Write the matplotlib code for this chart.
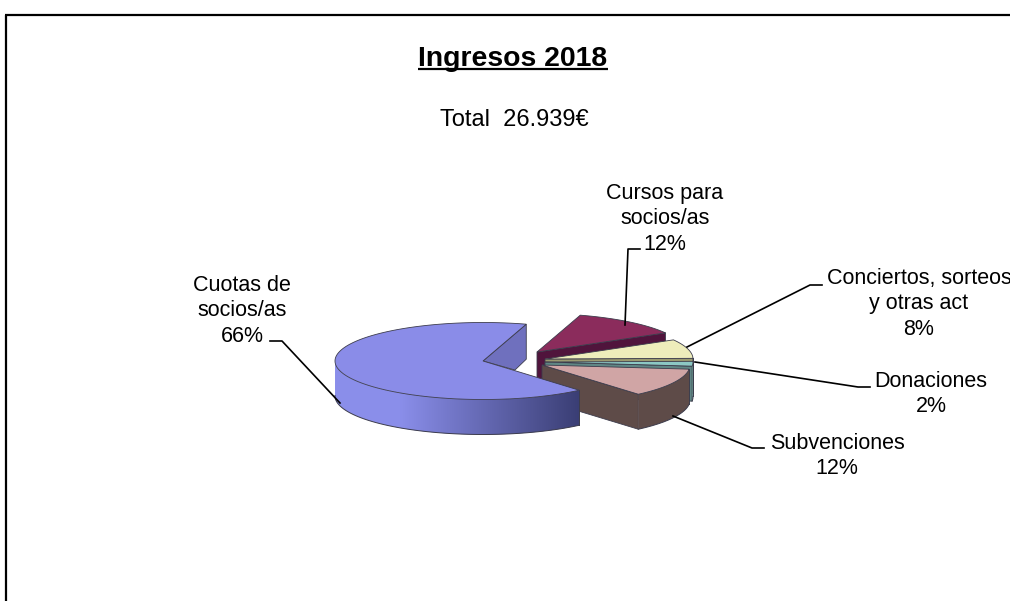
import numpy as np
import matplotlib
matplotlib.use("Agg")
import matplotlib.pyplot as plt
from matplotlib.patches import Polygon

plt.rcParams['font.family'] = ['Liberation Sans', 'DejaVu Sans']

# data, counterclockwise from the top of the big slice
categories = ["Cuotas de\nsocios/as", "Subvenciones", "Donaciones", "Conciertos, sorteos\ny otras act", "Cursos para\nsocios/as"]
shares = [66, 12, 2, 8, 12]
title = "Ingresos 2018"
subtitle = "Total  26.939€"

START = 73.0
A, B, DEPTH = 148.0, 38.5, 35.0

# apex of each exploded slice, in pixels
apex = [(483, 361), (542, 365), (545, 362), (545, 359), (537, 352)]
top_col = ["#8A8CE8", "#D0A5A5", "#8CC8C4", "#EEEDBB", "#8B2C5C"]
wall_col = ["#6F70BE", "#5E4B48", "#5F8684", "#9A9A70", "#50143C"]
edge = "#3C3C4C"

angles = np.cumsum([0] + [s * 3.6 for s in shares]) + START


def arc(cx, cy, a0, a1, n=200):
    t = np.radians(np.linspace(a0, a1, n))
    return cx + A * np.cos(t), cy - B * np.sin(t), np.sin(t)


def draw_slice(ax, i, z):
    cx, cy = apex[i]
    x, y, s = arc(cx, cy, angles[i], angles[i + 1])

    # wall of the cut at the start angle
    if i == 0:
        cut_x = [cx, x[0], x[0], cx + 32]
        cut_y = [cy, y[0], y[0] + DEPTH, cy + 9]
    else:
        cut_x = [cx, x[0], x[0], cx]
        cut_y = [cy, y[0], y[0] + DEPTH, cy + DEPTH]
    ax.fill(cut_x, cut_y, fc=wall_col[i], ec=edge, lw=0.6, zorder=z)

    # outer wall, only the part that faces us
    front = s <= 0.02
    if front.sum() > 1:
        wx, wy = x[front], y[front]
        outline = np.c_[np.r_[wx, wx[::-1]], np.r_[wy, wy[::-1] + DEPTH]]
        if i == 0:
            light = np.array([138, 142, 234]) / 255
            dark = np.array([58, 62, 116]) / 255
            ax.add_patch(Polygon(outline, closed=True, fc=light, ec="none", zorder=z + 0.05))
            poly = Polygon(outline, closed=True, fc="none", ec="none", zorder=z + 0.1)
            ax.add_patch(poly)
            grad = np.linspace(0, 1, 256)[None, :, None]
            img = ax.imshow(light * (1 - grad) + dark * grad, aspect="auto", zorder=z + 0.1,
                            extent=(400, wx.max(), 601, 0), interpolation="bilinear")
            img.set_clip_path(poly)
        else:
            ax.fill(outline[:, 0], outline[:, 1], fc=wall_col[i], ec="none", zorder=z + 0.1)
        ax.plot(wx, wy + DEPTH, color=edge, lw=0.7, zorder=z + 0.2)
        ax.plot([wx[-1], wx[-1]], [wy[-1], wy[-1] + DEPTH], color=edge, lw=0.7, zorder=z + 0.2)

    # top face
    ax.fill(np.r_[cx, x], np.r_[cy, y], fc=top_col[i], ec=edge, lw=0.6, zorder=z + 0.3)


fig = plt.figure(figsize=(10.1, 6.01), dpi=100)
ax = fig.add_axes([0, 0, 1, 1])

# back slices first, the big one goes over the brown one
for z, i in enumerate([4, 3, 2, 1, 0]):
    draw_slice(ax, i, 2 + z)

ax.set_xlim(0, 1010)
ax.set_ylim(601, 0)
ax.axis("off")

# chart frame, cut off on the right and at the bottom
ax.plot([6, 6], [601, 14.5], color="black", lw=1.6, solid_capstyle="butt")
ax.plot([5, 1010], [14.5, 14.5], color="black", lw=1.6, solid_capstyle="butt")

# leader lines
leaders = [
    [(270, 341), (282, 341), (340, 403)],
    [(764, 448), (752, 448), (673, 416)],
    [(870, 387), (858, 387), (695, 362)],
    [(822, 285), (810, 285), (687, 347)],
    [(640, 249), (628, 249), (625, 325)],
]
for line in leaders:
    px, py = zip(*line)
    ax.plot(px, py, color="black", lw=1.2, zorder=8)

# labels
label_pos = [(242, 311), (837, 456), (931, 394), (919, 304), (665, 219)]
for name, s, (lx, ly) in zip(categories, shares, label_pos):
    ax.text(lx, ly, f"{name}\n{s}%", ha="center", va="center", fontsize=15.5,
            linespacing=1.29, color="black", zorder=9)

ax.text(513, 58.5, title, ha="center", va="center", fontsize=20.4, fontweight="bold")
ax.plot([418, 608], [68.5, 68.5], color="black", lw=1.6, solid_capstyle="butt")
ax.text(514, 120, subtitle, ha="center", va="center", fontsize=17)

fig.savefig("out.png", dpi=100)
